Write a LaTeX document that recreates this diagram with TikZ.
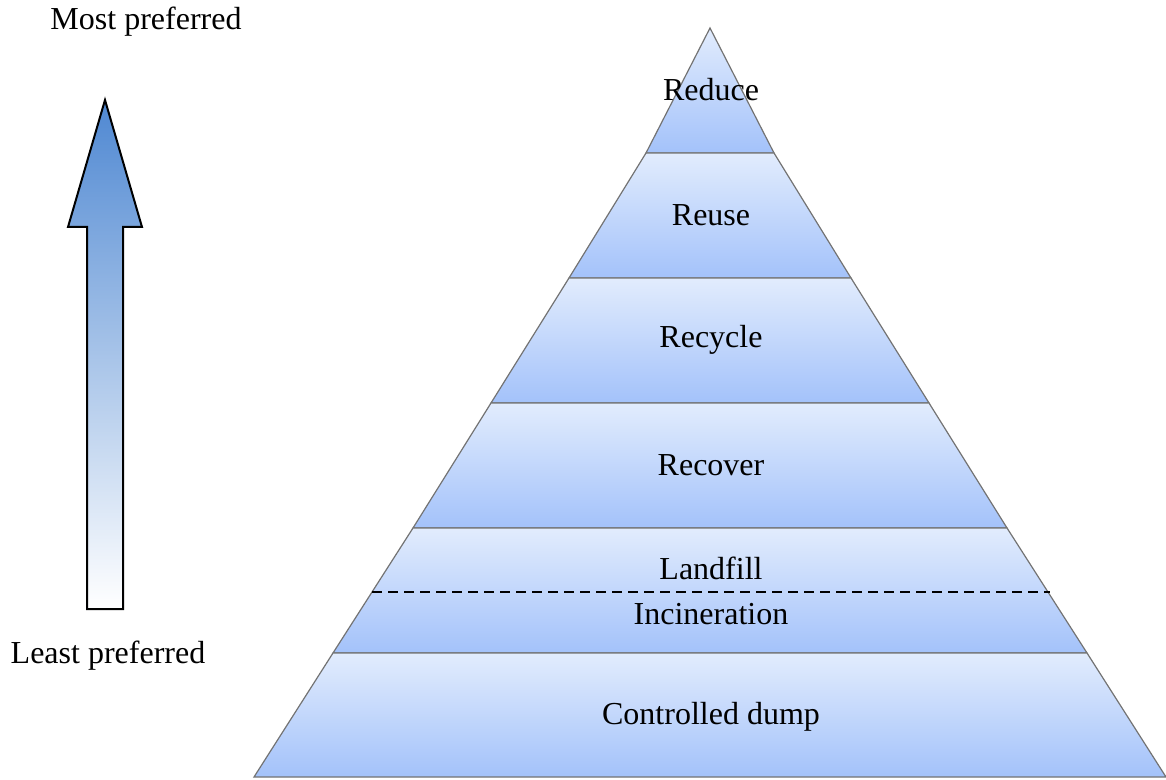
\documentclass[tikz,border=0pt]{standalone}
\usepackage{fontspec}
\setmainfont{Liberation Serif}
\definecolor{bandtop}{RGB}{226,236,253}
\definecolor{bandbot}{RGB}{163,194,250}
\definecolor{arrowtop}{RGB}{79,136,210}
\tikzset{
  band/.style={draw=black!55, line width=0.6pt, top color=bandtop, bottom color=bandbot},
  levelname/.style={font=\fontsize{16}{19}\selectfont, inner sep=1pt}
}
\begin{document}
\begin{tikzpicture}[x=0.5pt,y=-0.5pt]
  \useasboundingbox (0,0) rectangle (1166,780);
  % Bands of the pyramid: top y / bottom y / half widths, centre x = 710.
  \foreach \t/\b/\tw/\bw in {28/153/0/64,153/278/64/141,278/403/141/219,
      403/528/219/297,528/653/297/377,653/777/377/456}{
    \draw[band] (710-\tw,\t) -- (710+\tw,\t) -- (710+\bw,\b) -- (710-\bw,\b) -- cycle;
  }
  % Split between landfill and incineration.
  \coordinate (dl) at (372,592);
  \coordinate (dr) at (1050,592);
  \draw[dashed, line width=0.9pt, dash pattern=on 5pt off 3pt] (dl) -- (dr);
  % Level names.
  \node[levelname] (reduce) at (711,90) {Reduce};
  \node[levelname] (reuse) at (711,215) {Reuse};
  \node[levelname] (recycle) at (711,340) {Recycle};
  \node[levelname] (recover) at (711,465) {Recover};
  \node[levelname] (landfill) at (711,568) {Landfill};
  \node[levelname] (incin) at (711,614) {Incineration};
  \node[levelname] (dump) at (711,717) {Controlled dump};
  % Preference arrow.
  \draw[line width=1pt, top color=arrowtop, bottom color=white]
    (87,609) -- (123,609) -- (123,227) -- (142,227) -- (105,100)
    -- (68,227) -- (87,227) -- cycle;
  \node[levelname] (most) at (146,22) {Most preferred};
  \node[levelname] (least) at (108,656) {Least preferred};
\end{tikzpicture}
\end{document}
